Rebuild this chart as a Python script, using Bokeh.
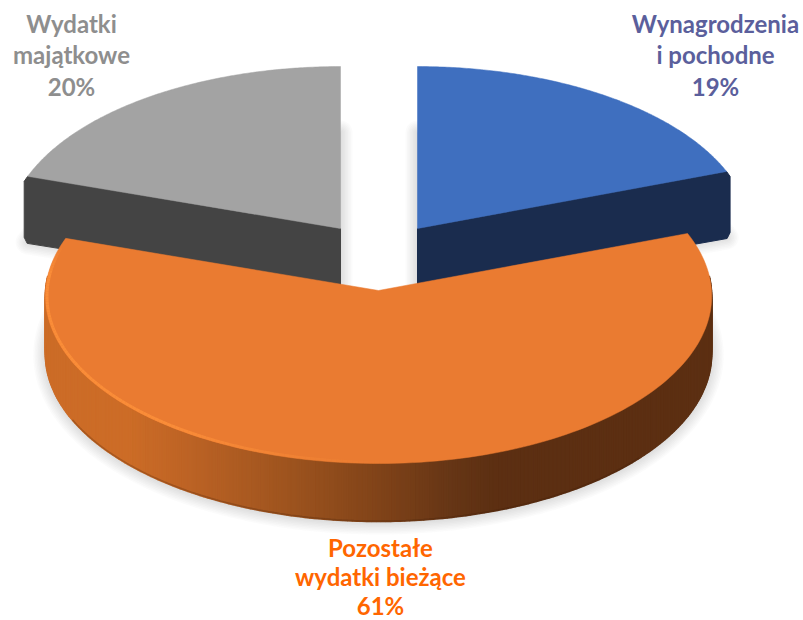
import numpy as np
from bokeh.plotting import figure
from bokeh.embed import file_html
from bokeh.resources import INLINE
from bokeh.core.properties import value

# --- data -----------------------------------------------------------------
categories = ["Wynagrodzenia\ni pochodne", "Pozostałe\nwydatki bieżące", "Wydatki\nmajątkowe"]
values = [19.4, 60.7, 19.9]
share_labels = ["19%", "61%", "20%"]
top_colors = ["#3F6FBF", "#EA7B31", "#A3A3A3"]
wall_colors = ["#1A2C4E", "#5C2F12", "#444444"]
label_colors = ["#5B5F9C", "#FF6600", "#8E8E8E"]
label_x = [715, 380, 71]
label_y0 = [22.5, 546.5, 22.5]

# --- projection ------------------------------------------------------------
centers = [(417, 228), (378, 290), (340, 228)]
R, R2, K = 333, 167.3, 0.033
H_BACK, H_FRONT = 65, 58


def proj(c, th):
    X, Z = np.sin(th), np.cos(th)
    s = 1 / (1 + K * Z)
    return c[0] + R * X * s, c[1] - R2 * Z * s


edges = np.radians(np.concatenate([[0], np.cumsum(values)]) * 3.6)
arcs = [np.linspace(edges[i], edges[i + 1], 160) for i in range(3)]

p = figure(width=803, height=620, x_range=(0, 803), y_range=(620, 0),
           toolbar_location=None, output_backend="svg", min_border=0,
           outline_line_color=None, background_fill_color="white")
p.axis.visible = False
p.grid.visible = False

# soft shadows: bottom face of each slice, blurred with stacked strokes
for i in (2, 0, 1):
    h = H_FRONT if i == 1 else H_BACK
    ax, ay = proj(centers[i], arcs[i])
    xs = np.r_[centers[i][0], ax]
    ys = np.r_[centers[i][1], ay] + h + 1
    for w in (3, 6, 9, 12, 15, 18, 21, 24):
        p.patch(xs, ys, fill_color="#8a8a8a", fill_alpha=0.03,
                line_color="#8a8a8a", line_alpha=0.035, line_width=w, line_join="round")

# cut faces of the two back slices, then their tops
for i in (2, 0):
    c = centers[i]
    th = edges[i + 1] if i == 0 else edges[i]
    cx, cy = proj(c, th)
    sgn = 1 if i == 0 else -1
    wx = [c[0], cx, cx + sgn * 3.5, cx + sgn * 3.5, cx + sgn * 0.5, c[0]]
    wy = [c[1], cy, cy + 5, cy + H_BACK - 4, cy + H_BACK + 2, c[1] + H_BACK]
    p.patch(wx, wy, fill_color=wall_colors[i], line_color=wall_colors[i], line_width=1)
for i in (2, 0):
    ax, ay = proj(centers[i], arcs[i])
    p.patch(np.r_[centers[i][0], ax], np.r_[centers[i][1], ay],
            fill_color=top_colors[i], line_color=top_colors[i], line_width=0.5)

# rim of the large slice, shaded left to right
stops_x = [44, 130, 190, 300, 380, 450, 500, 720]
stops_rgb = np.array([[204, 108, 39], [204, 108, 39], [188, 99, 37], [154, 82, 30],
                      [128, 67, 25], [102, 54, 22], [92, 47, 18], [92, 47, 18]], float)
c1 = centers[1]
rim = np.radians(np.linspace(85, 275, 240))
rx, ry = proj(c1, rim)
qx, qy, qc = [], [], []
for a in range(len(rim) - 1):
    xm = (rx[a] + rx[a + 1]) / 2
    rgb = [np.interp(xm, stops_x, stops_rgb[:, k]) for k in range(3)]
    qx.append([rx[a], rx[a + 1], rx[a + 1], rx[a]])
    qy.append([ry[a], ry[a + 1], ry[a + 1] + H_FRONT, ry[a] + H_FRONT])
    qc.append("#%02x%02x%02x" % tuple(int(v) for v in rgb))
p.patches(qx, qy, fill_color=qc, line_color=qc, line_width=1.5)
edge_part = np.radians(np.linspace(130, 245, 120))
ex, ey = proj(c1, edge_part)
p.line(ex, ey + H_FRONT - 0.5, line_color="#3a1c08", line_alpha=0.25, line_width=1.5)

# top of the large slice
ax, ay = proj(c1, arcs[1])
p.patch(np.r_[c1[0], ax], np.r_[c1[1], ay], fill_color=top_colors[1],
        line_color=top_colors[1], line_width=0.5)

# light bevel along the lower left edge
bev = np.radians(np.linspace(178, 285, 120))
bx, by = proj(c1, bev)
bx = c1[0] + (bx - c1[0]) * 0.995
by = c1[1] + (by - c1[1]) * 0.992
mx, my, ma = [], [], []
for a in range(len(bev) - 1):
    t = min(1, a / 45) * min(1, (len(bev) - a) / 12)
    mx.append([bx[a], bx[a + 1]])
    my.append([by[a], by[a + 1]])
    ma.append(float(t * 0.9))
p.multi_line(mx, my, line_color="#FC8F3A", line_alpha=ma, line_width=3)

# labels
for i, cat in enumerate(categories):
    lines = cat.split("\n") + [share_labels[i]]
    step = 29 if i == 1 else 31.5
    p.text([label_x[i]] * len(lines), [label_y0[i] + step * n for n in range(len(lines))], text=lines,
           text_font=value("Lato"), text_font_style="bold", text_font_size="24px",
           text_color=label_colors[i], text_align="center", text_baseline="alphabetic")

open("out.html", "w").write(file_html(p, INLINE))
